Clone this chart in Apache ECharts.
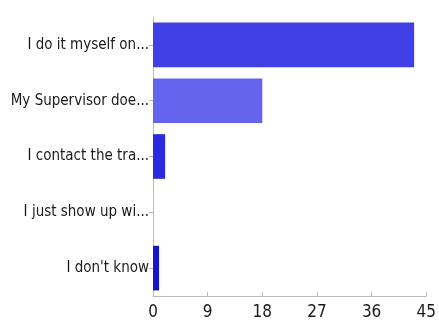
<!DOCTYPE html>
<html><head><meta charset="utf-8">
<style>html,body{margin:0;padding:0;background:#fff}#c{width:439px;height:328px}</style>
<script src="https://cdn.jsdelivr.net/npm/echarts@6/dist/echarts.min.js"></script>
</head><body><div id="c"></div>
<script>
const categories = ["I do it myself on...", "My Supervisor doe...", "I contact the tra...", "I just show up wi...", "I don't know"];
const values = [43, 18, 2, 0, 1];
const barColors = ["#4040e6", "#6464ee", "#2a2ae0", "#2a2ae0", "#1414cc"];
const xTicks = [0, 9, 18, 27, 36, 45];

const chart = echarts.init(document.getElementById('c'), null, {renderer: 'canvas'});
const font = '"Liberation Sans Narrow", "DejaVu Sans Condensed", sans-serif';
chart.setOption({
  animation: false,
  grid: {left: 153, right: 8, top: 17, bottom: 32, containLabel: false},
  xAxis: {
    type: 'value', min: xTicks[0], max: xTicks[xTicks.length - 1], interval: 9,
    axisLine: {show: true, lineStyle: {color: '#bbbbbb'}},
    axisTick: {show: true, inside: true, length: 4, lineStyle: {color: '#bbbbbb'}},
    splitLine: {show: false},
    axisLabel: {color: '#1a1a1a', fontSize: 17, fontFamily: font, margin: 8}
  },
  yAxis: {
    type: 'category', data: categories, inverse: true,
    axisLine: {show: true, lineStyle: {color: '#bbbbbb'}},
    axisTick: {show: true, alignWithLabel: true, length: 4, lineStyle: {color: '#bbbbbb'}},
    axisLabel: {color: '#1a1a1a', fontSize: 15, fontFamily: font, margin: 4}
  },
  series: [{
    type: 'bar',
    data: values.map((v, i) => ({value: v, itemStyle: {color: barColors[i]}})),
    barCategoryGap: '20%'
  }]
});
</script></body></html>
